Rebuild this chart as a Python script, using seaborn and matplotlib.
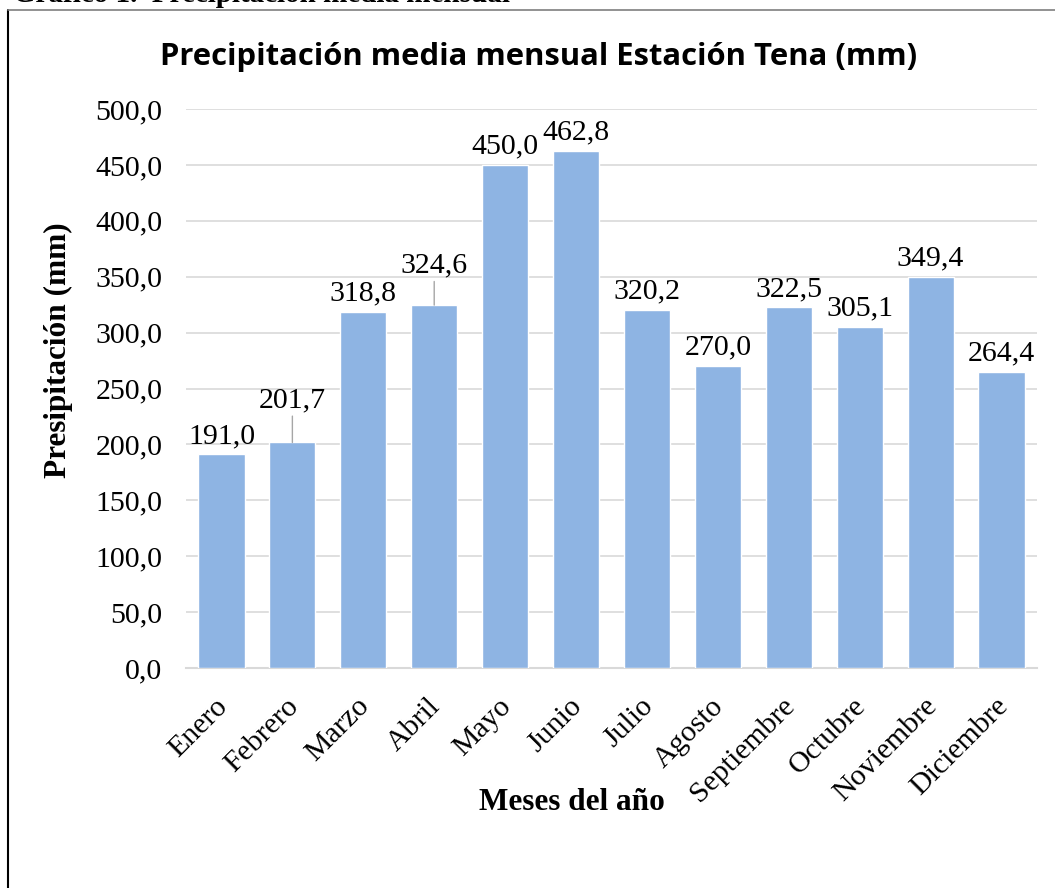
import matplotlib
matplotlib.use("Agg")
import matplotlib.pyplot as plt
import matplotlib.transforms as mtransforms
import seaborn as sns
import pandas as pd
from matplotlib.lines import Line2D

meses = ["Enero", "Febrero", "Marzo", "Abril", "Mayo", "Junio", "Julio",
         "Agosto", "Septiembre", "Octubre", "Noviembre", "Diciembre"]
precipitacion = [191.0, 201.7, 318.8, 324.6, 450.0, 462.8, 320.2,
                 270.0, 322.5, 305.1, 349.4, 264.4]
yticks = [0, 50, 100, 150, 200, 250, 300, 350, 400, 450, 500]

sns.set_theme(style="white")
plt.rcParams['font.family'] = ['Liberation Serif', 'DejaVu Serif']
plt.rcParams.update({"text.color": "black", "axes.labelcolor": "black",
                     "xtick.color": "black", "ytick.color": "black"})

df = pd.DataFrame({"mes": meses, "precip": precipitacion})

W, H = 1055, 888
fig = plt.figure(figsize=(W / 100, H / 100), dpi=100)
ax = fig.add_axes([186 / W, 1 - 668 / H, (1037 - 186) / W, (668 - 109) / H])

sns.barplot(data=df, x="mes", y="precip", color="#8EB4E3", saturation=1,
            width=0.65, ax=ax, zorder=3)

FS = 21.5
ax.set_xlim(-0.5, len(meses) - 0.5)
ax.set_ylim(0, 500)
ax.set_yticks(yticks)
ax.set_yticklabels([f"{v:.1f}".replace(".", ",") for v in yticks], fontsize=FS)
ax.yaxis.grid(True, color="#D9D9D9", linewidth=1.2, zorder=0)
ax.set_axisbelow(True)
for s in ["top", "right", "left"]:
    ax.spines[s].set_visible(False)
ax.spines["bottom"].set_color("#D9D9D9")
ax.spines["bottom"].set_linewidth(1.5)
ax.tick_params(axis="both", length=0)
ax.tick_params(axis="y", pad=17)
ax.tick_params(axis="x", pad=18)
shift = mtransforms.ScaledTranslation(-7 / 100, 0, fig.dpi_scale_trans)
for lab in ax.get_xticklabels():
    lab.set_rotation(45)
    lab.set_ha("right")
    lab.set_rotation_mode("anchor")
    lab.set_fontsize(FS)
    lab.set_transform(lab.get_transform() + shift)

ax.set_xlabel("Meses del año", fontsize=22.5, fontweight="bold")
ax.xaxis.set_label_coords((572 - 186) / (1037 - 186), -(803 - 668) / (668 - 109))
ax.xaxis.label.set_va("center")
ax.set_ylabel("Presipitación (mm)", fontsize=22.5, fontweight="bold")
ax.yaxis.set_label_coords(-(186 - 58) / (1037 - 186), (668 - 350) / (668 - 109))
ax.yaxis.label.set_va("center")

# data labels
offsets = {1: 17, 3: 15}
for i, v in enumerate(precipitacion):
    off = offsets.get(i, 0)
    ax.annotate(f"{v:.1f}".replace(".", ","), (i, v), xytext=(0, 4 + off),
                textcoords="offset points", ha="center", va="bottom", fontsize=FS)
    if off:
        ax.annotate("", (i, v), xytext=(0, off + 2), textcoords="offset points",
                    arrowprops=dict(arrowstyle="-", color="#A6A6A6", lw=1.0,
                                    shrinkA=0, shrinkB=0))

fig.text(539 / W, 1 - 57 / H, "Precipitación media mensual Estación Tena (mm)",
         ha="center", va="center", fontsize=22.3, fontweight="bold",
         family=["Open Sans", "DejaVu Sans"])

# chart frame
fig.add_artist(Line2D([8 / W, 8 / W], [0, 1 - 10 / H], color="black", lw=1.5,
                      transform=fig.transFigure))
fig.add_artist(Line2D([8 / W, 1], [1 - 10 / H, 1 - 10 / H], color="#7F7F7F", lw=1.2,
                      transform=fig.transFigure))

# caption above the chart (cut off by the image edge, as in the reference)
fig.text(13 / W, 1 + 6 / H, "Gráfico 1.  Precipitación media mensual",
         ha="left", va="center", fontsize=21, fontweight="bold")

fig.savefig("out.png", dpi=100)
